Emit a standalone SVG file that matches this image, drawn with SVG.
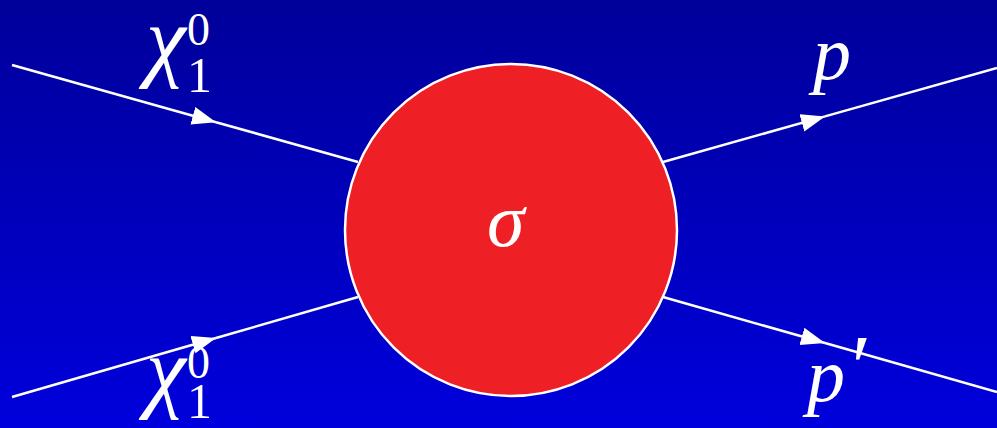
<svg xmlns="http://www.w3.org/2000/svg" width="997" height="428" viewBox="0 0 997 428">
<defs>
<linearGradient id="bg" x1="0" y1="0" x2="0" y2="1">
<stop offset="0" stop-color="#00009a"/>
<stop offset="1" stop-color="#0000dc"/>
</linearGradient>
<marker id="arr" markerUnits="userSpaceOnUse" markerWidth="26" markerHeight="20" refX="24" refY="9" orient="auto">
<path d="M0,0 L24,9 L0,18 z" fill="#fff"/>
</marker>
<style>
.ln{stroke:#fff;stroke-width:2.5;fill:none}
.t{font-family:"Liberation Serif","DejaVu Serif",serif;font-style:italic;fill:#fff}
.n{font-family:"Liberation Serif","DejaVu Serif",serif;fill:#fff}
</style>
</defs>
<rect width="997" height="428" fill="url(#bg)"/>
<g id="connectors">
<path class="ln" d="M12,65 L216,122.2" marker-end="url(#arr)"/>
<path class="ln" d="M216,122.2 L358,162"/>
<path class="ln" d="M12,397 L216,338" marker-end="url(#arr)"/>
<path class="ln" d="M216,338 L358,297"/>
<path class="ln" d="M663,162 L825,116.4" marker-end="url(#arr)"/>
<path class="ln" d="M825,116.4 L997,68"/>
<path class="ln" d="M663,297 L825,343" marker-end="url(#arr)"/>
<path class="ln" d="M825,343 L997,392"/>
</g>
<g id="blob">
<circle cx="511" cy="230" r="166" fill="#ee2026" stroke="#fff" stroke-width="2.5"/>
<text class="t" x="487" y="246" font-size="76">σ</text>
</g>
<g id="chi-top">
<text class="t" x="146" y="70" font-size="90">χ</text>
<text class="n" x="187" y="92" font-size="50">1</text>
<text class="n" x="187" y="45" font-size="46">0</text>
</g>
<g id="chi-bottom">
<text class="t" x="146" y="401" font-size="90">χ</text>
<text class="n" x="187" y="418" font-size="50">1</text>
<text class="n" x="187" y="378" font-size="46">0</text>
</g>
<g id="p-top">
<text class="t" x="813" y="79" font-size="76">p</text>
</g>
<g id="p-bottom">
<text class="t" x="807" y="401" font-size="76">p</text>
<text class="t" x="846" y="398" font-size="90">′</text>
</g>
</svg>
